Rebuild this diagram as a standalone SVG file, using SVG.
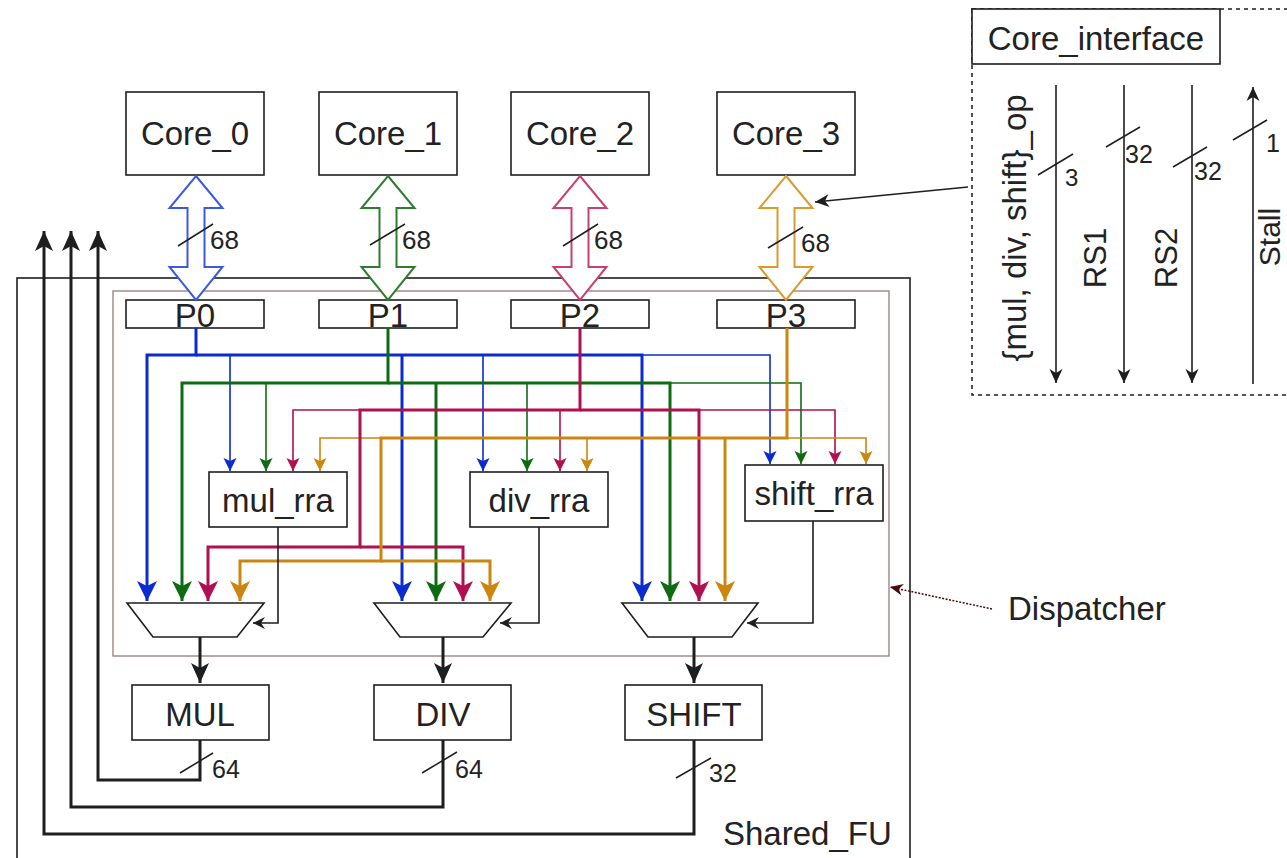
<svg xmlns="http://www.w3.org/2000/svg" width="1287" height="858" viewBox="0 0 1287 858">
<style>
text{font-family:"Liberation Sans",Arial,sans-serif;fill:#222}
.big{font-size:33px}
.lbl{font-size:25px}
.box{fill:#fff;stroke:#1e1e1e;stroke-width:1.6}
.blk{fill:none;stroke:#1e1e1e;stroke-width:1.6}
.blkT{fill:none;stroke:#1e1e1e;stroke-width:3}
.sl{stroke:#1e1e1e;stroke-width:1.5}
.B{stroke:#0b2bd1}.G{stroke:#0e6b12}.C{stroke:#b0104f}.O{stroke:#cc8610}
.th{fill:none;stroke-width:3}
.tn{fill:none;stroke-width:1.6}
.dbl{fill:#fff;stroke-width:2}
</style>
<defs>
<marker id="hB" markerUnits="userSpaceOnUse" markerWidth="24" markerHeight="24" viewBox="-22 -12 24 24" refX="0" refY="0" orient="auto"><path d="M-20,-10 L0,0 L-20,10 L-15,0 z" fill="#0b2bd1"/></marker>
<marker id="hG" markerUnits="userSpaceOnUse" markerWidth="24" markerHeight="24" viewBox="-22 -12 24 24" refX="0" refY="0" orient="auto"><path d="M-20,-10 L0,0 L-20,10 L-15,0 z" fill="#0e6b12"/></marker>
<marker id="hC" markerUnits="userSpaceOnUse" markerWidth="24" markerHeight="24" viewBox="-22 -12 24 24" refX="0" refY="0" orient="auto"><path d="M-20,-10 L0,0 L-20,10 L-15,0 z" fill="#b0104f"/></marker>
<marker id="hO" markerUnits="userSpaceOnUse" markerWidth="24" markerHeight="24" viewBox="-22 -12 24 24" refX="0" refY="0" orient="auto"><path d="M-20,-10 L0,0 L-20,10 L-15,0 z" fill="#cc8610"/></marker>
<marker id="sB" markerUnits="userSpaceOnUse" markerWidth="16" markerHeight="16" viewBox="-15 -8 16 16" refX="0" refY="0" orient="auto"><path d="M-13,-6.5 L0,0 L-13,6.5 L-10,0 z" fill="#0b2bd1"/></marker>
<marker id="sG" markerUnits="userSpaceOnUse" markerWidth="16" markerHeight="16" viewBox="-15 -8 16 16" refX="0" refY="0" orient="auto"><path d="M-13,-6.5 L0,0 L-13,6.5 L-10,0 z" fill="#0e6b12"/></marker>
<marker id="sC" markerUnits="userSpaceOnUse" markerWidth="16" markerHeight="16" viewBox="-15 -8 16 16" refX="0" refY="0" orient="auto"><path d="M-13,-6.5 L0,0 L-13,6.5 L-10,0 z" fill="#b0104f"/></marker>
<marker id="sO" markerUnits="userSpaceOnUse" markerWidth="16" markerHeight="16" viewBox="-15 -8 16 16" refX="0" refY="0" orient="auto"><path d="M-13,-6.5 L0,0 L-13,6.5 L-10,0 z" fill="#cc8610"/></marker>
<marker id="kT" markerUnits="userSpaceOnUse" markerWidth="24" markerHeight="24" viewBox="-22 -12 24 24" refX="0" refY="0" orient="auto"><path d="M-20,-9 L0,0 L-20,9 L-15,0 z" fill="#1e1e1e"/></marker>
<marker id="kS" markerUnits="userSpaceOnUse" markerWidth="16" markerHeight="16" viewBox="-15 -8 16 16" refX="0" refY="0" orient="auto"><path d="M-12,-6 L0,0 L-12,6 L-8,0 z" fill="#1e1e1e"/></marker>
<marker id="kM" markerUnits="userSpaceOnUse" markerWidth="18" markerHeight="18" viewBox="-16 -9 18 18" refX="0" refY="0" orient="auto"><path d="M-14,-6.5 L0,0 L-14,6.5 L-10,0 z" fill="#1e1e1e"/></marker>
<marker id="kD" markerUnits="userSpaceOnUse" markerWidth="18" markerHeight="18" viewBox="-16 -9 18 18" refX="0" refY="0" orient="auto"><path d="M-13,-6 L0,0 L-13,6 L-9,0 z" fill="#4a0a0a"/></marker>
</defs>
<rect width="1287" height="858" fill="#fff"/>

<g id="shared_fu">
<rect x="17" y="278" width="893" height="640" fill="none" stroke="#1e1e1e" stroke-width="1.6"/>
<text class="big" x="723" y="845">Shared_FU</text>
</g>
<g id="dispatcher">
<rect x="113" y="291" width="776" height="365" fill="none" stroke="#a08484" stroke-width="1.4"/>
</g>
<g id="dispatcher_label">
<text class="big" x="1008" y="620">Dispatcher</text>
</g>

<g id="core_interface">
<rect x="972" y="9" width="340" height="386" fill="none" stroke="#1e1e1e" stroke-width="1.5" stroke-dasharray="4 4"/>
<rect x="972" y="9" width="248" height="55" class="box"/>
<text class="big" x="1096" y="50" text-anchor="middle">Core_interface</text>
<line x1="1056" y1="85" x2="1056" y2="383" class="blk" marker-end="url(#kM)"/>
<line x1="1124" y1="85" x2="1124" y2="383" class="blk" marker-end="url(#kM)"/>
<line x1="1192" y1="85" x2="1192" y2="383" class="blk" marker-end="url(#kM)"/>
<line x1="1253" y1="384" x2="1253" y2="87" class="blk" marker-end="url(#kM)"/>
<line x1="1038" y1="175" x2="1073" y2="154" class="sl"/>
<text class="lbl" x="1065" y="186" style="font-size:24px">3</text>
<line x1="1106" y1="147" x2="1140" y2="127" class="sl"/>
<text class="lbl" x="1125" y="163">32</text>
<line x1="1173" y1="167" x2="1207" y2="147" class="sl"/>
<text class="lbl" x="1194" y="180">32</text>
<line x1="1233" y1="140" x2="1267" y2="120" class="sl"/>
<text class="lbl" x="1266" y="152">1</text>
<text class="big" transform="translate(1026,228) rotate(-90)" text-anchor="middle">{mul, div, shift}_op</text>
<text class="big" transform="translate(1106,258) rotate(-90)" text-anchor="middle" style="font-size:31px">RS1</text>
<text class="big" transform="translate(1177,258) rotate(-90)" text-anchor="middle" style="font-size:31px">RS2</text>
<text class="big" transform="translate(1280,237) rotate(-90)" text-anchor="middle" style="font-size:30px">Stall</text>
</g>

<g id="core0"><rect x="126" y="92" width="138" height="83" class="box"/><text class="big" x="195" y="145" text-anchor="middle">Core_0</text></g>
<g id="core1"><rect x="319" y="92" width="138" height="83" class="box"/><text class="big" x="388" y="145" text-anchor="middle">Core_1</text></g>
<g id="core2"><rect x="511" y="92" width="138" height="83" class="box"/><text class="big" x="580" y="145" text-anchor="middle">Core_2</text></g>
<g id="core3"><rect x="717" y="92" width="138" height="83" class="box"/><text class="big" x="786" y="145" text-anchor="middle">Core_3</text></g>

<g id="p0"><rect x="126" y="300" width="138" height="28" class="box"/><text class="big" x="195" y="327" text-anchor="middle">P0</text></g>
<g id="p1"><rect x="319" y="300" width="138" height="28" class="box"/><text class="big" x="388" y="327" text-anchor="middle">P1</text></g>
<g id="p2"><rect x="511" y="300" width="138" height="28" class="box"/><text class="big" x="580" y="327" text-anchor="middle">P2</text></g>
<g id="p3"><rect x="717" y="300" width="138" height="28" class="box"/><text class="big" x="786" y="327" text-anchor="middle">P3</text></g>

<g id="mul_rra"><rect x="209" y="472" width="138" height="55" class="box"/><text class="big" x="278" y="512" text-anchor="middle">mul_rra</text></g>
<g id="div_rra"><rect x="470" y="472" width="138" height="55" class="box"/><text class="big" x="539" y="512" text-anchor="middle">div_rra</text></g>
<g id="shift_rra"><rect x="745" y="465" width="138" height="56" class="box"/><text class="big" x="814" y="505" text-anchor="middle">shift_rra</text></g>

<g id="mux1"><polygon points="127,603 264,603 237,637 153,637" class="box"/></g>
<g id="mux2"><polygon points="374,603 511,603 483,637 400,637" class="box"/></g>
<g id="mux3"><polygon points="622,603 758,603 732,637 648,637" class="box"/></g>

<g id="MUL"><rect x="132" y="685" width="137" height="55" class="box"/><text class="big" x="200" y="726" text-anchor="middle">MUL</text></g>
<g id="DIV"><rect x="374" y="685" width="137" height="55" class="box"/><text class="big" x="443" y="726" text-anchor="middle">DIV</text></g>
<g id="SHIFT"><rect x="625" y="685" width="137" height="55" class="box"/><text class="big" x="694" y="726" text-anchor="middle">SHIFT</text></g>

<g id="connectors">
<polygon class="dbl" stroke="#3a5be0" points="196,176 222.5,208 204.5,208 204.5,267 222.5,267 196,300 169.5,267 187.5,267 187.5,208 169.5,208"/>
<polygon class="dbl" stroke="#2e7d2e" points="388,176 414.5,208 396.5,208 396.5,267 414.5,267 388,300 361.5,267 379.5,267 379.5,208 361.5,208"/>
<polygon class="dbl" stroke="#c8406e" points="580,176 606.5,208 588.5,208 588.5,267 606.5,267 580,300 553.5,267 571.5,267 571.5,208 553.5,208"/>
<polygon class="dbl" stroke="#d99a30" points="786,176 812.5,208 794.5,208 794.5,267 812.5,267 786,300 759.5,267 777.5,267 777.5,208 759.5,208"/>
<line x1="178" y1="246" x2="213" y2="224" class="sl"/><text class="lbl" x="210" y="249" style="font-size:26px">68</text>
<line x1="370" y1="245" x2="405" y2="224" class="sl"/><text class="lbl" x="402" y="249" style="font-size:26px">68</text>
<line x1="563" y1="246" x2="598" y2="224" class="sl"/><text class="lbl" x="594" y="249" style="font-size:26px">68</text>
<line x1="768" y1="248" x2="803" y2="227" class="sl"/><text class="lbl" x="801" y="252" style="font-size:26px">68</text>

<path class="tn B" d="M230,355 V471" marker-end="url(#sB)"/>
<path class="tn B" d="M483,355 V471" marker-end="url(#sB)"/>
<path class="tn B" d="M642,355 H770 V464" marker-end="url(#sB)"/>
<path class="tn G" d="M266,383 V471" marker-end="url(#sG)"/>
<path class="tn G" d="M527,383 V471" marker-end="url(#sG)"/>
<path class="tn G" d="M670,383 H801 V464" marker-end="url(#sG)"/>
<path class="tn C" d="M360,410 H293 V471" marker-end="url(#sC)"/>
<path class="tn C" d="M560,410 V471" marker-end="url(#sC)"/>
<path class="tn C" d="M699,410 H835 V464" marker-end="url(#sC)"/>
<path class="tn O" d="M381,438 H320 V471" marker-end="url(#sO)"/>
<path class="tn O" d="M587,438 V471" marker-end="url(#sO)"/>
<path class="tn O" d="M787,438 H866 V464" marker-end="url(#sO)"/>

<path class="th B" d="M196,328 V355 H147 V601" marker-end="url(#hB)"/>
<path class="th B" d="M196,355 H642 V601" marker-end="url(#hB)"/>
<path class="th B" d="M402,355 V601" marker-end="url(#hB)"/>
<path class="th G" d="M388,328 V383 H182 V601" marker-end="url(#hG)"/>
<path class="th G" d="M388,383 H670 V601" marker-end="url(#hG)"/>
<path class="th G" d="M436,383 V601" marker-end="url(#hG)"/>
<path class="th C" d="M580,328 V410 H360 V547 H208 V601" marker-end="url(#hC)"/>
<path class="th C" d="M360,547 H463 V601" marker-end="url(#hC)"/>
<path class="th C" d="M580,410 H699 V601" marker-end="url(#hC)"/>
<path class="th O" d="M787,328 V438 H381 V561 H240 V601" marker-end="url(#hO)"/>
<path class="th O" d="M381,561 H490 V601" marker-end="url(#hO)"/>
<path class="th O" d="M725,438 V601" marker-end="url(#hO)"/>

<path class="blk" d="M278,527 V623 H253" marker-end="url(#kS)"/>
<path class="blk" d="M539,527 V623 H500" marker-end="url(#kS)"/>
<path class="blk" d="M813,521 V623 H747" marker-end="url(#kS)"/>

<path class="blkT" d="M200,637 V683" marker-end="url(#kT)"/>
<path class="blkT" d="M443,637 V683" marker-end="url(#kT)"/>
<path class="blkT" d="M694,637 V683" marker-end="url(#kT)"/>

<path class="blkT" d="M200,740 V780 H98 V231" marker-end="url(#kT)"/>
<path class="blkT" d="M443,740 V807 H71 V231" marker-end="url(#kT)"/>
<path class="blkT" d="M694,740 V834 H44 V231" marker-end="url(#kT)"/>
<line x1="180" y1="773" x2="213" y2="753" class="sl"/><text class="lbl" x="212" y="778">64</text>
<line x1="422" y1="773" x2="457" y2="752" class="sl"/><text class="lbl" x="455" y="778">64</text>
<line x1="676" y1="778" x2="711" y2="758" class="sl"/><text class="lbl" x="709" y="782">32</text>

<path d="M968,187 L815,202" fill="none" stroke="#1e1e1e" stroke-width="1.5" marker-end="url(#kM)"/>
<path d="M992,609 L890,587" fill="none" stroke="#4a0a0a" stroke-width="1.5" stroke-dasharray="2 1.5" marker-end="url(#kD)"/>
</g>
</svg>
